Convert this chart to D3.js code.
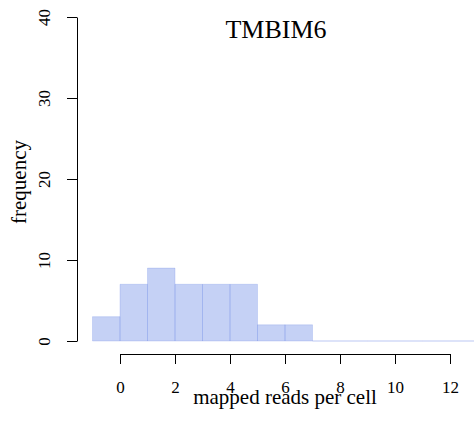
<!DOCTYPE html>
<html><head><meta charset="utf-8">
<script src="https://cdn.jsdelivr.net/npm/d3@7"></script>
<style>body{margin:0;background:#fff}svg{display:block}text{font-family:"Liberation Serif","Times New Roman",serif;fill:#000}</style>
</head><body>
<svg id="c" width="474" height="422"></svg>
<script>
const binStarts = [-1,0,1,2,3,4,5,6,7,8,9,10,11,12];
const counts    = [3,7,9,7,7,7,2,2,0,0,0,0,0,0];
const xTicks = [0,2,4,6,8,10,12];
const yTicks = [0,10,20,30,40];
const title = "TMBIM6";
const xLabel = "mapped reads per cell";
const yLabel = "frequency";
const serif = "Liberation Serif, Times New Roman, serif";

const svg = d3.select("#c");
const x = d3.scaleLinear().domain([0,12]).range([120,450]);
const y = d3.scaleLinear().domain([0,40]).range([341,17]);

svg.append("g").selectAll("path").data(binStarts).join("path")
  .attr("d", (d,i) => {
    const x0 = x(d), x1 = x(d+1), y0 = y(0), y1 = y(counts[i]);
    return `M${x0},${y0}L${x0},${y1}L${x1},${y1}L${x1},${y0}Z`;
  })
  .attr("fill", "rgba(110,140,230,0.4)")
  .attr("stroke", "rgba(110,140,230,0.25)")
  .attr("stroke-width", 1);

// y axis
const ya = svg.append("g").attr("transform","translate(77,0)")
  .call(d3.axisLeft(y).tickValues(yTicks).tickSize(10).tickSizeOuter(0).tickFormat(d3.format("d")))
  .attr("font-family", serif).attr("font-size", 17);
ya.select(".domain").attr("stroke","#000");
ya.selectAll(".tick line").attr("stroke","#000");
ya.selectAll(".tick text").attr("x",null).attr("dy",null)
  .attr("text-anchor","middle").attr("transform","translate(-27,0) rotate(-90)");

// x axis
const xa = svg.append("g").attr("transform","translate(0,354)")
  .call(d3.axisBottom(x).tickValues(xTicks).tickSize(10).tickSizeOuter(0).tickFormat(d3.format("d")))
  .attr("font-family", serif).attr("font-size", 17);
xa.select(".domain").attr("stroke","#000");
xa.selectAll(".tick line").attr("stroke","#000");
xa.selectAll(".tick text").attr("dy",null).attr("y",39);
svg.selectAll(".domain, .tick line").attr("stroke-width",1);

svg.append("text").attr("x",276).attr("y",38).attr("text-anchor","middle").attr("font-size",26).text(title);
svg.append("text").attr("x",x(6)).attr("y",404).attr("text-anchor","middle").attr("font-size",21).text(xLabel);
svg.append("text").attr("transform","translate(26,182) rotate(-90)").attr("text-anchor","middle").attr("font-size",21).text(yLabel);
</script>
</body></html>
